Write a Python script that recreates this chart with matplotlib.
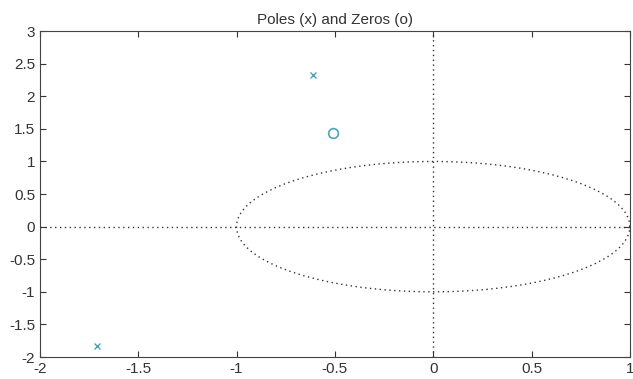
import numpy as np
import matplotlib.pyplot as plt

plt.rcParams['font.family'] = ['Liberation Sans', 'DejaVu Sans']

pole_re = [-0.61, -1.71]
pole_im = [2.33, -1.83]
zero_re = [-0.51]
zero_im = [1.44]

xticks = [-2, -1.5, -1, -0.5, 0, 0.5, 1]
yticks = [-2, -1.5, -1, -0.5, 0, 0.5, 1, 1.5, 2, 2.5, 3]

fig = plt.figure(figsize=(6.33, 3.79), dpi=100)
ax = fig.add_axes([0.063, 0.058, 0.932, 0.86])

dots = (0, (1, 2.5))
theta = np.linspace(0, 2 * np.pi, 200)
ax.plot(np.cos(theta), np.sin(theta), linestyle=dots, color='#333333', linewidth=1)
ax.axhline(0, linestyle=dots, color='#333333', linewidth=1)
ax.axvline(0, linestyle=dots, color='#333333', linewidth=1)

mark_color = '#4da6b8'
ax.plot(pole_re, pole_im, 'x', color=mark_color, markersize=4, markeredgewidth=1)
ax.plot(zero_re, zero_im, 'o', color=mark_color, markersize=7, markerfacecolor='none', markeredgewidth=1.2)

ax.set_xlim(-2, 1)
ax.set_ylim(-2, 3)
ax.set_xticks(xticks)
ax.set_yticks(yticks)
ax.set_xticklabels([f"{t:g}" for t in xticks])
ax.set_yticklabels([f"{t:g}" for t in yticks])
ax.tick_params(direction='in', top=True, right=True, labelsize=11, length=4, colors='#333333')
for s in ax.spines.values():
    s.set_color('#444444')
ax.set_title("Poles (x) and Zeros (o)", fontsize=11, color='#333333', pad=5)

fig.savefig("out.png", dpi=100)
